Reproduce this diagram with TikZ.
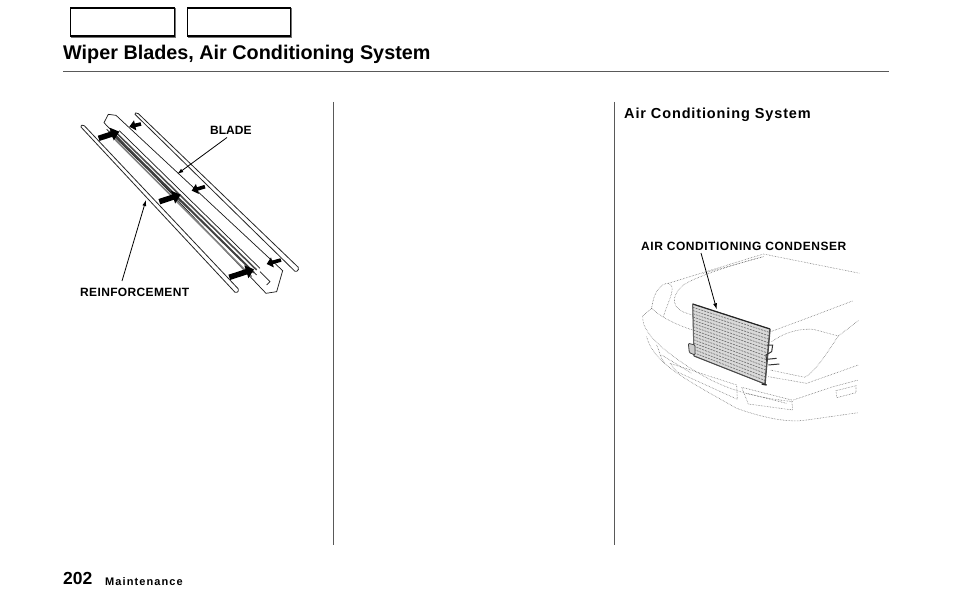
\documentclass[tikz,border=0pt]{standalone}
\usepackage{fontspec}
\setmainfont{Liberation Sans}
\usetikzlibrary{arrows.meta}
\usetikzlibrary{calc}
\tikzset{
	tabbox/.style={draw=black, line width=1.2pt, fill=white},
	label/.style={font=\bfseries\fontsize{12}{14}\selectfont, inner sep=0pt, anchor=base west},
	leader/.style={draw=black, line width=0.8pt, -{Latex[length=6pt,width=4pt]}},
	blockarrow/.style={draw=black, line width=5.5pt, -{Triangle[length=8pt,width=13pt]}},
	smallarrow/.style={draw=black, line width=3.6pt, -{Triangle[length=6pt,width=10pt]}},
	strip/.style={draw=black!85, line width=0.8pt, fill=white, rounded corners=1.5pt},
	bladeline/.style={draw=black!90, line width=0.7pt},
	carline/.style={draw=black!60, line width=0.55pt, densely dotted},
	rule/.style={draw=black!65, line width=0.7pt},
}
\begin{document}
\begin{tikzpicture}[x=1pt, y=-1pt]
	\useasboundingbox (0,0) rectangle (954,610);

	% header
	\draw[black!55, line width=1.2pt] (175.5,8) -- (175.5,37) -- (71,37);
	\draw[black!55, line width=1.2pt] (291.5,8) -- (291.5,37) -- (188,37);
	\node (tab1) [tabbox, minimum width=104pt, minimum height=28pt, anchor=north west] at (70,7.5) {};
	\node (tab2) [tabbox, minimum width=103pt, minimum height=28pt, anchor=north west] at (187,7.5) {};
	\node (title) [anchor=base west, inner sep=0pt, font=\bfseries\fontsize{19.8}{24}\selectfont] at (63,60) {Wiper Blades, Air Conditioning System};
	\draw[rule] (63,71.5) -- (889,71.5);

	% column rules
	\draw[rule] (333,102) -- (333,545);
	\draw[rule] (614.5,102) -- (614.5,545);

	\node (heading) [anchor=base west, inner sep=0pt, font=\bfseries\fontsize{14.5}{16}\selectfont] at (624,118) {\addfontfeature{LetterSpace=6}Air Conditioning System};
	\node (page) [anchor=base west, inner sep=0pt, font=\bfseries\fontsize{17.5}{20}\selectfont] at (63,584) {202};
	\node (section) [anchor=base west, inner sep=0pt, font=\bfseries\fontsize{11}{12}\selectfont] at (105,585) {\addfontfeature{LetterSpace=10}Maintenance};

	% wiper blade
	\begin{scope}[shift={(60,100)}, scale=1/3]
		\draw[strip] (222,40) -- (232,38) -- (718,505) -- (708,517) -- cycle;
		\draw[strip] (60,78) -- (70,74) -- (538,570) -- (528,580) -- cycle;

		\draw[bladeline, fill=white] (132,68) -- (145,43) -- (168,46) -- (668,512) -- (650,575) -- (618,580) -- cycle;
		\draw[bladeline] (140,88) -- (590,525);
		\draw[bladeline] (178,92) -- (600,505);
		\draw[black!75, line width=2pt] (150,92) -- (582,518);
		\draw[black!70, line width=1.6pt] (160,90) -- (590,510);
		\draw[black!50, line width=1.6pt] (145,98) -- (575,530);
		\draw[bladeline] (600,515) -- (630,545) -- (620,555);

		\coordinate (arr1) at (178,95);
		\coordinate (arr1s) at (116,115);
		\coordinate (arr2) at (362,284);
		\coordinate (arr2s) at (298,305);
		\coordinate (arr3) at (582,508);
		\coordinate (arr3s) at (508,532);
		\coordinate (arr4) at (208,80);
		\coordinate (arr4s) at (243,72);
		\coordinate (arr5) at (395,272);
		\coordinate (arr5s) at (435,260);
		\coordinate (arr6) at (620,492);
		\coordinate (arr6s) at (663,480);
		\draw[blockarrow] (arr1s) -- (arr1);
		\draw[blockarrow] (arr2s) -- (arr2);
		\draw[blockarrow] (arr3s) -- (arr3);
		\draw[smallarrow] (arr4s) -- (arr4);
		\draw[smallarrow] (arr5s) -- (arr5);
		\draw[smallarrow] (arr6s) -- (arr6);

		\coordinate (bladetip) at (352,222);
		\coordinate (reinftip) at (258,300);
	\end{scope}
	\node (blade) [label] at (210,134) {BLADE};
	\node (reinf) [label] at (80,296.5) {\addfontfeature{LetterSpace=3}REINFORCEMENT};
	\draw[leader] (227,137.5) -- (bladetip);
	\draw[leader] (122,281) -- (reinftip);

	% car and condenser
	\begin{scope}[shift={(620,230)}, scale=1/3]
		\draw[carline] (145,160) -- (300,112) -- (430,72) -- (570,100) -- (720,130);
		\draw[carline] (250,130) -- (430,80);
		\draw[carline] (218,255) .. controls (150,240) and (150,200) .. (190,165) .. controls (220,145) and (300,115) .. (430,80);
		\draw[carline] (95,235) .. controls (100,190) and (120,160) .. (145,160) .. controls (170,170) and (150,200) .. (130,260);
		\draw[carline] (68,258) .. controls (65,300) and (110,350) .. (220,420) .. controls (300,470) and (380,500) .. (520,515);
		\draw[carline] (95,235) -- (68,258);
		\draw[carline] (95,235) .. controls (120,260) and (170,285) .. (218,300);
		\draw[carline] (80,320) .. controls (100,400) and (200,450) .. (350,535) .. controls (420,560) and (500,580) .. (560,570) -- (715,548);
		\draw[carline] (110,345) .. controls (120,365) and (120,385) .. (135,400);
		\draw[carline] (125,375) -- (215,430);
		\draw[carline] (150,400) -- (350,465) -- (352,508) -- (170,425) -- cycle;
		\draw[carline] (365,472) -- (515,510) -- (518,540) -- (385,522) -- cycle;
		\draw[carline] (380,490) -- (500,520);
		\draw[carline] (648,482) -- (708,467) -- (708,488) -- (650,503) -- cycle;
		\draw[carline] (452,305) -- (560,265) -- (700,212);
		\draw[carline] (455,335) .. controls (490,310) and (530,295) .. (580,298) -- (655,318) .. controls (620,370) and (590,420) .. (555,442) -- (450,420);
		\draw[carline] (655,318) -- (715,272);
		\draw[carline] (445,440) -- (560,460) -- (715,405);
		\draw[carline] (520,510) -- (640,470) -- (715,450);

		\draw[draw=black!70, fill=black!15, line width=0.6pt] (218,222) -- (450,297) -- (435,462) -- (222,378) -- cycle;
		\foreach \i in {1,...,15}{
			\draw[black!55, line width=0.7pt, dash pattern=on 2pt off 1pt]
				($(218,222)!\i/16!(222,378)$) -- ($(450,297)!\i/16!(435,462)$);
		}
		\draw[black!85, line width=1.2pt] (218,222) -- (450,297);
		\draw[black!70, line width=1pt] (222,378) -- (435,462);
		\draw[black!60, line width=1pt] (218,222) -- (222,378);
		\draw[black!70, line width=1.4pt] (450,297) -- (435,462);
		\draw[black!75, line width=0.8pt, fill=black!20, rounded corners=1pt] (205,340) -- (225,345) -- (225,375) -- (208,368) -- cycle;
		\draw[black!80, line width=1pt] (440,345) -- (458,345) -- (455,365) -- (438,375) -- (440,395);
		\draw[black!80, line width=1pt] (440,388) -- (470,385);
		\draw[black!80, line width=1pt] (445,405) -- (478,402);
		\draw[black!85, line width=1.4pt] (425,462) -- (440,465);

		\coordinate (condtip) at (290,238);
	\end{scope}
	\node (condenser) [label] at (641,250) {\addfontfeature{LetterSpace=4.5}AIR CONDITIONING CONDENSER};
	\draw[leader] (701,253) -- (condtip);
\end{tikzpicture}
\end{document}
